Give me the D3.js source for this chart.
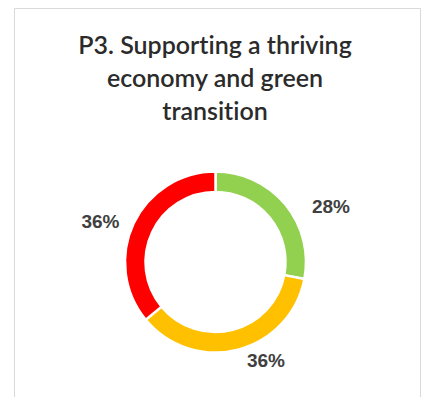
<!DOCTYPE html>
<html>
<head>
<meta charset="utf-8">
<script src="https://cdn.jsdelivr.net/npm/d3@7"></script>
<style>
html, body { margin: 0; padding: 0; background: #fff; }
svg { display: block; }
text { font-variant-ligatures: none; font-feature-settings: "liga" 0, "clig" 0; }
</style>
</head>
<body>
<svg id="chart" width="425" height="397"></svg>
<script>
// ---- data ----
const categories = ["Green", "Amber", "Red"];
const values = [28, 36, 36];
const labels = ["28%", "36%", "36%"];
const colors = ["#92d050", "#ffc000", "#ff0000"];
const titleLines = ["P3. Supporting a thriving", "economy and green", "transition"];

// ---- layout ----
const W = 425, H = 397;
const cx = 215.5, cy = 262;
const outerR = 90.5, innerR = 70;
// label offsets from the donut centre (Excel-style placed labels)
const labelOffsets = [[115.5, -56], [50.5, 98], [-115, -41]];

const svg = d3.select("#chart");

// frame
svg.append("path")
  .attr("d", `M14.5,${H + 2} V8.5 H420.5 V${H + 2}`)
  .attr("fill", "none")
  .attr("stroke", "#d9d9d9")
  .attr("stroke-width", 1);

// title
const title = svg.append("text")
  .attr("text-anchor", "middle")
  .attr("font-family", "Lato, 'Open Sans', sans-serif")
  .attr("font-size", 25)
  .attr("font-weight", 600)
  .attr("fill", "#2b2b2b");
titleLines.forEach((t, i) => {
  title.append("tspan").attr("x", 215).attr("y", 54 + i * 33).text(t);
});

// donut
const pie = d3.pie().sort(null).value(d => d)(values);
const arc = d3.arc().innerRadius(innerR).outerRadius(outerR);

const g = svg.append("g").attr("transform", `translate(${cx},${cy})`);
g.selectAll("path.slice")
  .data(pie)
  .join("path")
  .attr("class", "slice")
  .attr("d", arc)
  .attr("fill", (d, i) => colors[i])
  .attr("stroke", "#ffffff")
  .attr("stroke-width", 2.5);

g.selectAll("text.lbl")
  .data(pie)
  .join("text")
  .attr("class", "lbl")
  .attr("x", (d, i) => labelOffsets[i][0])
  .attr("y", (d, i) => labelOffsets[i][1])
  .attr("text-anchor", "middle")
  .attr("dominant-baseline", "central")
  .attr("font-family", "'Liberation Sans', Arial, sans-serif")
  .attr("font-weight", "bold")
  .attr("font-size", 19)
  .attr("fill", "#404040")
  .text((d, i) => labels[i]);
</script>
</body>
</html>
